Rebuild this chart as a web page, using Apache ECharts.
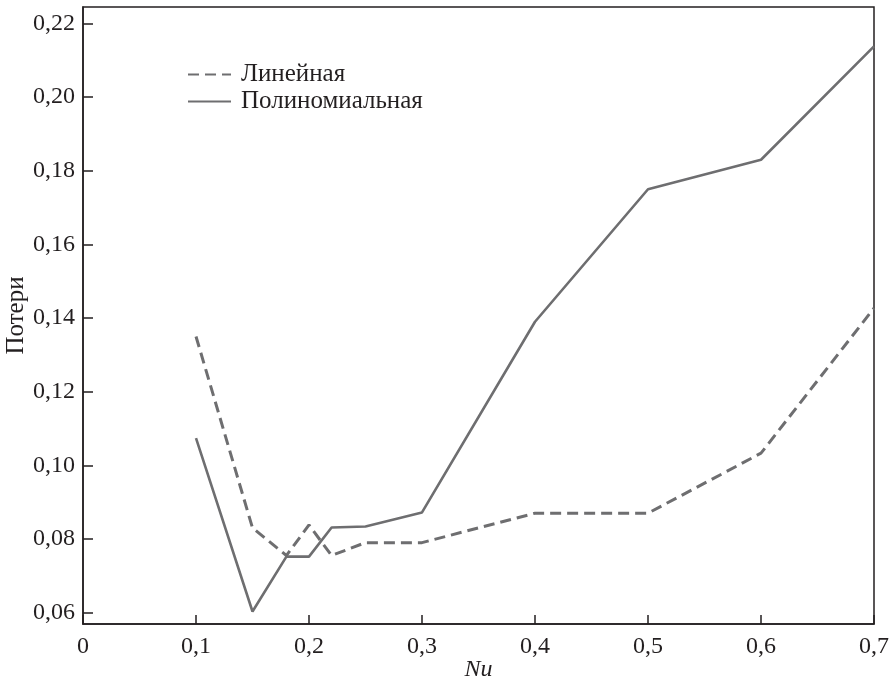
<!DOCTYPE html>
<html>
<head>
<meta charset="utf-8">
<script src="https://cdn.jsdelivr.net/npm/echarts@6/dist/echarts.min.js"></script>
<style>
  html, body { margin: 0; padding: 0; background: #fff; }
  #chart { width: 896px; height: 681px; }
</style>
</head>
<body>
<div id="chart"></div>
<script>
const nu = [0.1, 0.15, 0.18, 0.2, 0.22, 0.25, 0.3, 0.4, 0.5, 0.6, 0.7]
const linear = [0.135, 0.083, 0.0755, 0.0838, 0.0755, 0.079, 0.079, 0.087, 0.087, 0.1033, 0.1427]
const poly = [0.1074, 0.0603, 0.0752, 0.0752, 0.0831, 0.0834, 0.0872, 0.139, 0.175, 0.183, 0.2138]
const yTicks = [0.06, 0.08, 0.1, 0.12, 0.14, 0.16, 0.18, 0.2, 0.22]

const font = 'Liberation Serif'
const ink = '#231f20'
const lineColor = '#6e6e70'

function pairs(ys) {
  return nu.map((x, i) => [x, ys[i]])
}

const chart = echarts.init(document.getElementById('chart'))

chart.setOption({
  animation: false,
  textStyle: { fontFamily: font, color: ink },
  grid: {
    left: 83, right: 22, top: 7, bottom: 57,
    outerBoundsMode: 'none',
    show: true, borderColor: ink, borderWidth: 1.5
  },
  legend: {
    orient: 'vertical',
    left: 182,
    top: 57,
    itemWidth: 43,
    itemHeight: 14,
    itemGap: 2,
    itemStyle: { opacity: 0 },
    textStyle: { fontFamily: font, fontSize: 25, color: ink, lineHeight: 23, padding: [0, 0, 0, 5] },
    data: ['Линейная', 'Полиномиальная']
  },
  xAxis: {
    type: 'value',
    min: 0,
    max: 0.7,
    interval: 0.1,
    name: 'Nu',
    nameLocation: 'middle',
    nameGap: 34,
    nameMoveOverlap: false,
    nameTextStyle: { fontFamily: font, fontSize: 24, fontStyle: 'italic', color: ink },
    axisLine: { lineStyle: { color: ink, width: 1.5 } },
    axisTick: { inside: true, length: 9, lineStyle: { color: ink, width: 1.5 } },
    axisLabel: {
      margin: 11,
      fontFamily: font, fontSize: 24, color: ink,
      formatter: (v) => (v === 0 ? '0' : v.toFixed(1).replace('.', ','))
    },
    splitLine: { show: false }
  },
  yAxis: {
    type: 'value',
    min: 0.0569,
    max: 0.2245,
    name: 'Потери',
    nameLocation: 'middle',
    nameRotate: 90,
    nameGap: 54,
    nameMoveOverlap: false,
    nameTextStyle: { fontFamily: font, fontSize: 25, color: ink },
    axisLine: { show: true, lineStyle: { color: ink, width: 1.5 } },
    axisTick: { inside: true, length: 10, customValues: yTicks, lineStyle: { color: ink, width: 1.5 } },
    axisLabel: {
      margin: 8,
      fontFamily: font, fontSize: 24, color: ink,
      customValues: yTicks,
      formatter: (v) => v.toFixed(2).replace('.', ',')
    },
    splitLine: { show: false }
  },
  series: [
    {
      name: 'Линейная',
      type: 'line',
      data: pairs(linear),
      symbol: 'none',
      color: lineColor,
      lineStyle: { color: lineColor, width: 3, type: [11, 6] }
    },
    {
      name: 'Полиномиальная',
      type: 'line',
      data: pairs(poly),
      symbol: 'none',
      color: lineColor,
      lineStyle: { color: lineColor, width: 2.6 }
    }
  ]
})
</script>
</body>
</html>
